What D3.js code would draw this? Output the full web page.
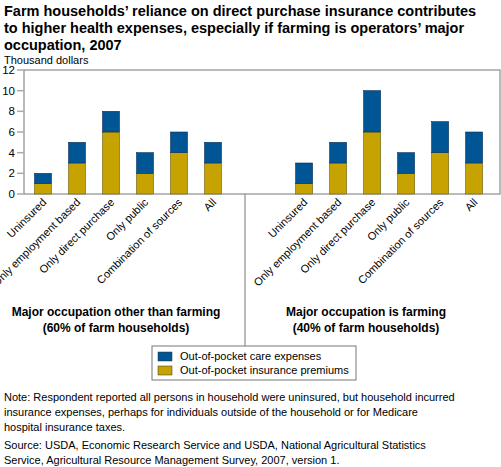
<!DOCTYPE html>
<html><head><meta charset="utf-8">
<script src="https://cdn.jsdelivr.net/npm/d3@7"></script>
<style>body{margin:0;background:#fff;font-family:Arial,"Liberation Sans",sans-serif;}</style>
</head><body><div id="chart"></div>
<script>
const categories = ["Uninsured", "Only employment based", "Only direct purchase", "Only public", "Combination of sources", "All"];
const groups = ["Major occupation other than farming", "Major occupation is farming"];
const groupNotes = ["(60% of farm households)", "(40% of farm households)"];
const premiums = [[1, 3, 6, 2, 4, 3], [1, 3, 6, 2, 4, 3]];
const care = [[1, 2, 2, 2, 2, 2], [2, 2, 4, 2, 3, 3]];
const yTicks = [0, 2, 4, 6, 8, 10, 12];

const W = 501, H = 467;
const plotL = 24, plotR = 500, plotT = 70, plotB = 194;
const svg = d3.select("#chart").append("svg").attr("width", W).attr("height", H);

const y = d3.scaleLinear().domain([0, 12]).range([plotB, plotT]);
// slot index: group 0 -> 0..5, group 1 -> 7.68..12.68
const x = d3.scaleLinear().domain([0, 1]).range([43, 77]);
const slot = (g, i) => g === 0 ? i : i + 7.68;
const bw = 17;

svg.append("text").attr("x", 4).attr("y", 16).attr("font-size", 14.5).attr("font-weight", "bold")
  .text("Farm households\u2019 reliance on direct purchase insurance contributes");
svg.append("text").attr("x", 4).attr("y", 33).attr("font-size", 14.5).attr("font-weight", "bold")
  .text("to higher health expenses, especially if farming is operators\u2019 major");
svg.append("text").attr("x", 4).attr("y", 50).attr("font-size", 14.5).attr("font-weight", "bold")
  .text("occupation, 2007");
svg.append("text").attr("x", 4).attr("y", 64).attr("font-size", 11).text("Thousand dollars");

svg.append("rect").attr("x", plotL).attr("y", plotT).attr("width", plotR - plotL).attr("height", plotB - plotT)
  .attr("fill", "none").attr("stroke", "#777");

yTicks.forEach(t => {
  svg.append("line").attr("x1", plotL - 7).attr("x2", plotL).attr("y1", y(t)).attr("y2", y(t))
    .attr("stroke", "#aaa").attr("stroke-width", 1.5);
  svg.append("text").attr("x", plotL - 9).attr("y", y(t) + 4).attr("text-anchor", "end")
    .attr("font-size", 11.5).text(t);
});

groups.forEach((gname, g) => {
  categories.forEach((c, i) => {
    const cx = x(slot(g, i));
    const p = premiums[g][i], k = care[g][i];
    svg.append("rect").attr("x", cx - bw / 2).attr("y", y(p)).attr("width", bw).attr("height", y(0) - y(p))
      .attr("fill", "#c6a300").attr("stroke", "#6b5a10").attr("stroke-width", 0.6);
    svg.append("rect").attr("x", cx - bw / 2).attr("y", y(p + k)).attr("width", bw).attr("height", y(p) - y(p + k))
      .attr("fill", "#005595").attr("stroke", "#0a2f55").attr("stroke-width", 0.6);
    svg.append("text").attr("transform", `translate(${cx + 4},${plotB + 9}) rotate(-45)`)
      .attr("text-anchor", "end").attr("font-size", 11).text(c);
  });
  const gx = g === 0 ? 116 : 366;
  svg.append("text").attr("x", gx).attr("y", 316).attr("text-anchor", "middle").attr("font-size", 12)
    .attr("font-weight", "bold").text(gname);
  svg.append("text").attr("x", gx).attr("y", 332).attr("text-anchor", "middle").attr("font-size", 12)
    .attr("font-weight", "bold").text(groupNotes[g]);
});

svg.append("line").attr("x1", 245).attr("x2", 245).attr("y1", plotB).attr("y2", 346).attr("stroke", "#777");

const lg = svg.append("g");
lg.append("rect").attr("x", 152).attr("y", 346).attr("width", 204).attr("height", 34)
  .attr("fill", "#fff").attr("stroke", "#777");
[["Out-of-pocket care expenses", "#005595"], ["Out-of-pocket insurance premiums", "#c6a300"]].forEach((d, i) => {
  lg.append("rect").attr("x", 158).attr("y", 352 + i * 14).attr("width", 14).attr("height", 9)
    .attr("fill", d[1]).attr("stroke", "#333").attr("stroke-width", 0.5);
  lg.append("text").attr("x", 180).attr("y", 360 + i * 14).attr("font-size", 11).text(d[0]);
});

const notes = [
  ["Note: Respondent reported all persons in household were uninsured, but household incurred", 403],
  ["insurance expenses, perhaps for individuals outside of the household or for Medicare", 418],
  ["hospital insurance taxes.", 433],
  ["Source:  USDA, Economic Research Service and USDA, National Agricultural Statistics", 451],
  ["Service, Agricultural Resource Management Survey, 2007, version 1.", 466]
];
notes.forEach(n => svg.append("text").attr("x", 4).attr("y", n[1] - 2).attr("font-size", 11).text(n[0]));
</script></body></html>
